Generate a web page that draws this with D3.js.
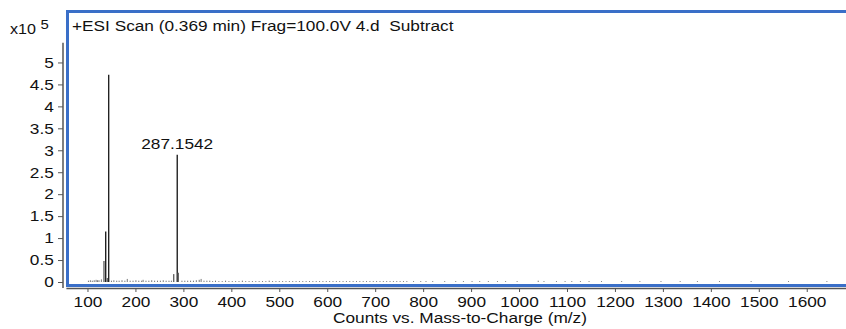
<!DOCTYPE html>
<html>
<head>
<meta charset="utf-8">
<script src="https://cdn.jsdelivr.net/npm/d3@7"></script>
<style>
  body { margin: 0; background: #fff; }
  svg text { font-family: "Liberation Sans", Arial, sans-serif; fill: #111; white-space: pre; }
</style>
</head>
<body>
<div id="chart"></div>
<script>
// spectrum data (counts in units of 1e5)
var peakMz = [134.4, 138.0, 141.3, 144.2, 279.8, 287.2, 289.4];
var peakCounts = [0.48, 1.15, 0.09, 4.72, 0.18, 2.90, 0.21];

var noiseMz = [102, 106, 110, 114, 118, 121, 124, 129, 150, 155, 161, 166, 172, 178, 183, 189,
  195, 201, 207, 213, 216, 222, 228, 234, 240, 246, 252, 258, 264, 270, 275, 297, 303, 309, 315,
  321, 327, 333, 337, 343, 349, 355, 361, 367, 374, 381, 388, 395, 402, 409, 416, 423, 430, 437,
  444, 451, 458, 465, 472, 479, 486, 493, 500, 507, 514, 521, 528, 535, 542, 549, 556, 563, 570,
  577, 584, 591, 598, 605, 612, 619, 626, 633, 640, 647, 654, 661, 668, 675, 682, 689, 696, 703,
  710, 717, 724, 731, 738, 745, 752, 759, 766, 780, 795, 806, 820, 845, 868, 884, 902, 918, 936,
  955, 972, 996, 1040, 1052, 1078, 1096, 1110, 1128, 1146, 1172, 1214, 1252, 1296, 1336, 1372,
  1418, 1484, 1562, 1642];
var noiseCounts = [0.03, 0.04, 0.03, 0.04, 0.05, 0.04, 0.04, 0.06, 0.03, 0.04, 0.03, 0.03, 0.04,
  0.03, 0.07, 0.03, 0.03, 0.04, 0.03, 0.03, 0.05, 0.03, 0.03, 0.04, 0.03, 0.03, 0.03, 0.04, 0.03,
  0.03, 0.03, 0.03, 0.03, 0.03, 0.03, 0.03, 0.04, 0.05, 0.07, 0.03, 0.03, 0.03, 0.02, 0.03, 0.02,
  0.02, 0.03, 0.02, 0.02, 0.02, 0.02, 0.03, 0.02, 0.02, 0.02, 0.02, 0.02, 0.02, 0.02, 0.03, 0.02,
  0.02, 0.02, 0.02, 0.02, 0.02, 0.02, 0.02, 0.02, 0.02, 0.02, 0.02, 0.02, 0.02, 0.02, 0.02, 0.02,
  0.02, 0.02, 0.02, 0.02, 0.02, 0.02, 0.02, 0.02, 0.02, 0.02, 0.02, 0.02, 0.02, 0.02, 0.02, 0.02,
  0.02, 0.02, 0.02, 0.02, 0.02, 0.02, 0.02, 0.02, 0.02, 0.02, 0.02, 0.02, 0.02, 0.02, 0.02, 0.02,
  0.02, 0.02, 0.02, 0.02, 0.02, 0.03, 0.02, 0.02, 0.02, 0.02, 0.02, 0.02, 0.02, 0.02, 0.02, 0.02,
  0.02, 0.02, 0.02, 0.02, 0.02, 0.02];

var xTicks = [100, 200, 300, 400, 500, 600, 700, 800, 900, 1000, 1100, 1200, 1300, 1400, 1500, 1600];
var yTicks = [0, 0.5, 1, 1.5, 2, 2.5, 3, 3.5, 4, 4.5, 5];

var titleText = "+ESI Scan (0.369 min) Frag=100.0V 4.d  Subtract";
var labelMz = 287.2, labelText = "287.1542";
var xTitle = "Counts vs. Mass-to-Charge (m/z)";

var W = 846, H = 329;
var stretch = 1.15; // text in the picture is wider than plain Arial

var svg = d3.select("#chart").append("svg")
  .attr("width", W)
  .attr("height", H);

var x = d3.scaleLinear().domain([55, 1700]).range([65.9, 854.7]);
var y = d3.scaleLinear().domain([0, 5.5]).range([282, 40.5]);

var axisColor = "#555";
var axisY = 288, axisX = 63;

// x axis
var xAxis = d3.axisBottom(x).tickValues(xTicks).tickSize(4).tickSizeOuter(0)
  .tickFormat(d3.format("d"));
var gx = svg.append("g")
  .attr("transform", "translate(0," + axisY + ")")
  .call(xAxis);
gx.select(".domain").attr("stroke", axisColor).attr("stroke-width", 1.5);
gx.selectAll(".tick line").attr("stroke", axisColor);
gx.selectAll(".tick text")
  .attr("y", 8)
  .style("font-size", "15px")
  .attr("transform", "scale(" + stretch + ",1)");

// y axis
var yAxis = d3.axisLeft(y).tickValues(yTicks).tickSize(5).tickSizeOuter(0)
  .tickFormat(d3.format("~g"));
var gy = svg.append("g")
  .attr("transform", "translate(" + axisX + ",0)")
  .call(yAxis);
gy.select(".domain").remove();
gy.append("line")
  .attr("x1", 0).attr("x2", 0)
  .attr("y1", y(5.45)).attr("y2", axisY)
  .attr("stroke", axisColor).attr("stroke-width", 1.5);
gy.selectAll(".tick line").attr("stroke", axisColor);
gy.selectAll(".tick text")
  .attr("x", -8)
  .style("font-size", "15px")
  .attr("transform", "scale(" + stretch + ",1)");

// multiplier label
var mult = svg.append("text").attr("x", 10).attr("y", 34).style("font-size", "14px")
  .attr("transform", "translate(10,0) scale(" + stretch + ",1) translate(-10,0)");
mult.append("tspan").text("x10 ");
mult.append("tspan").attr("dy", -5).style("font-size", "13px").text("5");

// noise bars
svg.append("g").selectAll("line")
  .data(noiseMz)
  .enter()
  .append("line")
  .attr("x1", function(d) { return x(d); })
  .attr("x2", function(d) { return x(d); })
  .attr("y1", y(0))
  .attr("y2", function(d, i) { return y(noiseCounts[i]); })
  .attr("stroke", "#777")
  .attr("stroke-width", 1);

// main peaks
svg.append("g").selectAll("line")
  .data(peakMz)
  .enter()
  .append("line")
  .attr("x1", function(d) { return x(d); })
  .attr("x2", function(d) { return x(d); })
  .attr("y1", y(0))
  .attr("y2", function(d, i) { return y(peakCounts[i]); })
  .attr("stroke", function(d, i) { return peakCounts[i] > 1 ? "#222" : "#666"; })
  .attr("stroke-width", 1.4);

// peak label
var lx = x(labelMz);
svg.append("text")
  .attr("x", lx)
  .attr("y", y(2.9) - 6)
  .attr("text-anchor", "middle")
  .style("font-size", "15px")
  .attr("transform", "translate(" + lx + ",0) scale(" + stretch + ",1) translate(" + (-lx) + ",0)")
  .text(labelText);

// blue frame
svg.append("rect")
  .attr("x", 67.5)
  .attr("y", 11.5)
  .attr("width", 900)
  .attr("height", 274)
  .attr("fill", "none")
  .attr("stroke", "#3a6fc8")
  .attr("stroke-width", 3);

// title in frame
svg.append("text")
  .attr("x", 72)
  .attr("y", 31)
  .style("font-size", "15px")
  .attr("transform", "translate(72,0) scale(" + stretch + ",1) translate(-72,0)")
  .text(titleText);

// axis title
svg.append("text")
  .attr("x", 460)
  .attr("y", 323)
  .attr("text-anchor", "middle")
  .style("font-size", "15px")
  .attr("transform", "translate(460,0) scale(" + stretch + ",1) translate(-460,0)")
  .text(xTitle);
</script>
</body>
</html>
